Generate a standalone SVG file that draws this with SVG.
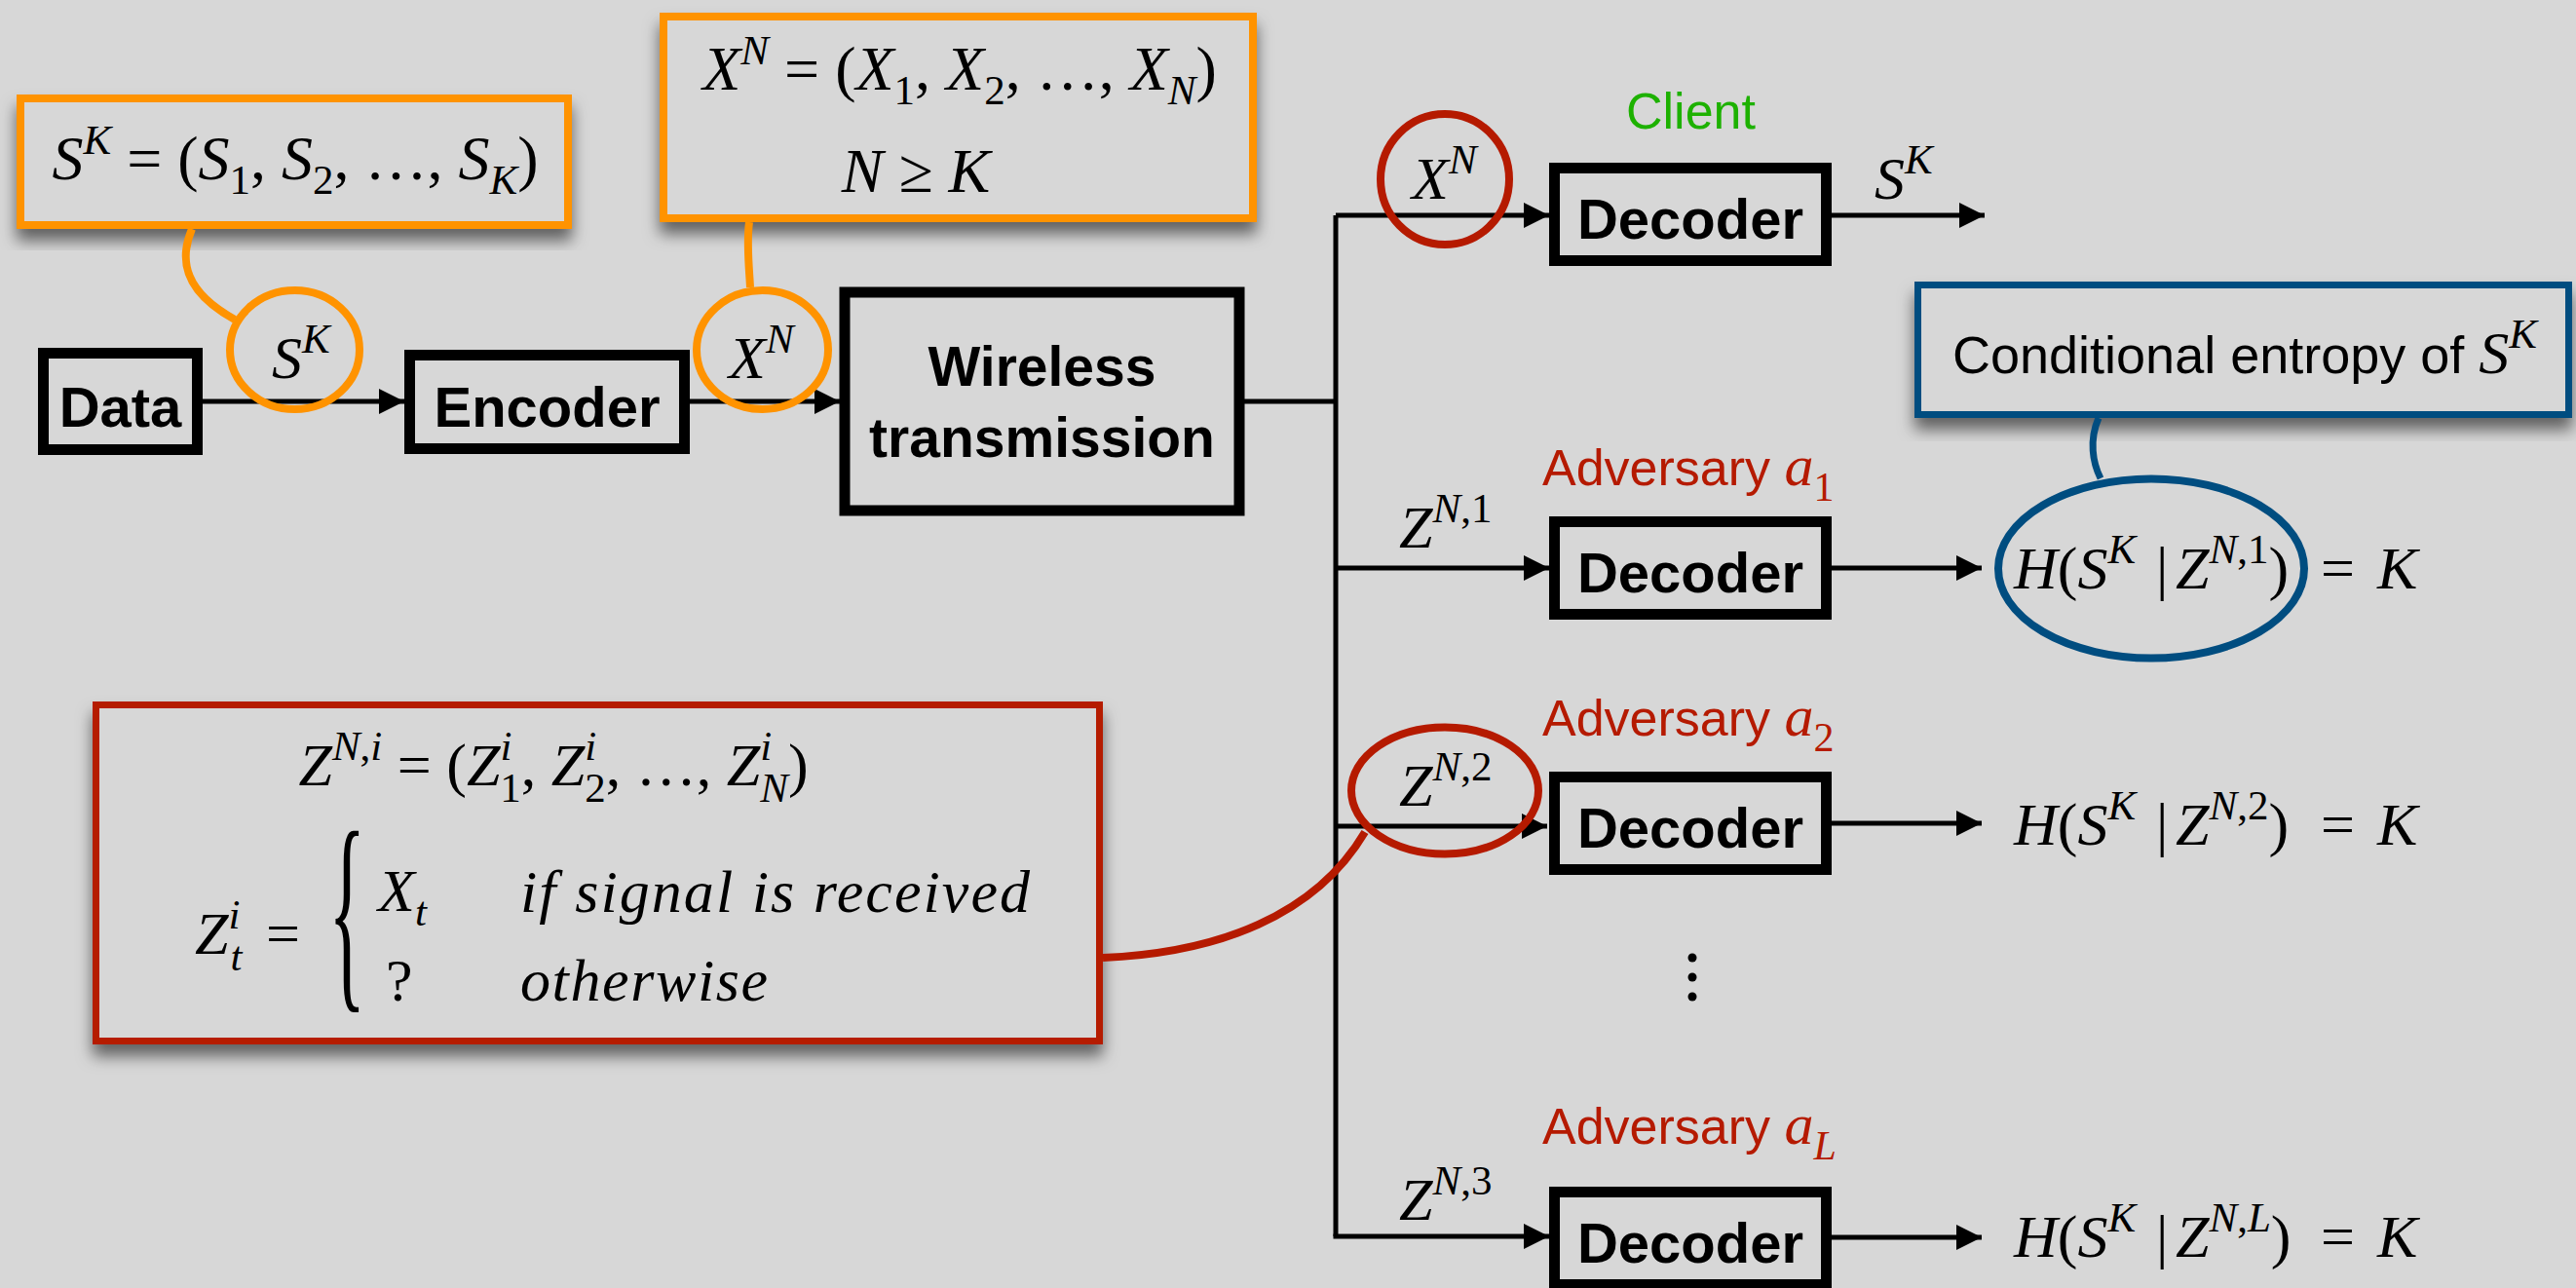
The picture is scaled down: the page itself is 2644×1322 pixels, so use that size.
<svg xmlns="http://www.w3.org/2000/svg" width="2644" height="1322" viewBox="0 0 2644 1322">
  <defs>
    <style>
      .m { font-family: "Liberation Serif", "Times New Roman", serif; font-size: 62px; }
      .i { font-style: italic; }
      .s { font-size: 43px; }
      .c { text-anchor: middle; }
      .lab { font-family: "Liberation Sans", Arial, sans-serif; }
      .bold { font-family: "Liberation Sans", Arial, sans-serif; font-weight: bold; font-size: 58px; text-anchor: middle; }
      .box { fill: none; stroke: #000; stroke-width: 11; }
      .wire { fill: none; stroke: #000; stroke-width: 5; }
      .arrow { fill: none; stroke: #000; stroke-width: 5; marker-end: url(#head); }
      .callout { fill: #d7d7d7; filter: url(#shadow); }
      .orange { stroke: #ff9300; }
      .red { stroke: #b51a00; }
      .blue { stroke: #004d80; }
      .ring { fill: none; stroke-width: 8; }
    </style>
    <marker id="head" markerUnits="userSpaceOnUse" markerWidth="28" markerHeight="26" refX="26" refY="13" orient="auto">
      <path d="M0,0 L26,13 L0,26 z" fill="#000"/>
    </marker>
    <filter id="shadow" x="-5%" y="-10%" width="110%" height="130%">
      <feDropShadow dx="0" dy="12" stdDeviation="8" flood-color="#000" flood-opacity="0.55"/>
    </filter>
  </defs>

  <rect width="2644" height="1322" fill="#d7d7d7"/>

  <!-- callout boxes -->
  <g id="callout-sk">
    <rect class="callout orange" x="21" y="101" width="562" height="130" stroke-width="8"/>
    <text class="m c" x="303" y="184" style="font-size:64px"><tspan class="i">S</tspan><tspan class="i s" dy="-26">K</tspan><tspan dy="26"> = (</tspan><tspan class="i">S</tspan><tspan class="s" dy="15">1</tspan><tspan dy="-15">, </tspan><tspan class="i">S</tspan><tspan class="s" dy="15">2</tspan><tspan dy="-15">, …, </tspan><tspan class="i">S</tspan><tspan class="i s" dy="15">K</tspan><tspan dy="-15">)</tspan></text>
  </g>

  <g id="callout-xn">
    <rect class="callout orange" x="681" y="17" width="605" height="207" stroke-width="8"/>
    <text class="m c" x="985" y="92" style="font-size:64px"><tspan class="i">X</tspan><tspan class="i s" dy="-26">N</tspan><tspan dy="26"> = (</tspan><tspan class="i">X</tspan><tspan class="s" dy="15">1</tspan><tspan dy="-15">, </tspan><tspan class="i">X</tspan><tspan class="s" dy="15">2</tspan><tspan dy="-15">, …, </tspan><tspan class="i">X</tspan><tspan class="i s" dy="15">N</tspan><tspan dy="-15">)</tspan></text>
    <text class="m c" x="940" y="197" style="font-size:64px"><tspan class="i">N</tspan> ≥ <tspan class="i">K</tspan></text>
  </g>

  <g id="callout-entropy">
    <rect class="callout blue" x="1968.5" y="292.5" width="668" height="133" stroke-width="7"/>
    <text class="lab" x="2004" y="383" font-size="54">Conditional entropy of <tspan class="m i">S</tspan><tspan class="m i s" dy="-26">K</tspan></text>
  </g>

  <g id="callout-zn">
    <rect class="callout red" x="98.5" y="723.5" width="1030" height="345" stroke-width="7"/>
    <text class="m c" x="568" y="806"><tspan class="i">Z</tspan><tspan class="s" dy="-26"><tspan class="i">N</tspan>,<tspan class="i">i</tspan></tspan><tspan dy="26"> = (</tspan><tspan class="i">Z</tspan><tspan class="i s" dy="-26">i</tspan><tspan class="s" dx="-12" dy="43">1</tspan><tspan dy="-17">, </tspan><tspan class="i">Z</tspan><tspan class="i s" dy="-26">i</tspan><tspan class="s" dx="-12" dy="43">2</tspan><tspan dy="-17">, …, </tspan><tspan class="i">Z</tspan><tspan class="i s" dy="-26">i</tspan><tspan class="i s" dx="-12" dy="43">N</tspan><tspan dy="-17">)</tspan></text>
    <text class="m" x="200" y="979"><tspan class="i">Z</tspan><tspan class="i s" dy="-26">i</tspan><tspan class="i s" dx="-10" dy="43">t</tspan><tspan x="273" dy="-17">=</tspan></text>
    <text class="m" x="281" y="296.7" style="font-size:66px" transform="scale(1.2,3.4)">{</text>
    <text class="m" x="388" y="935"><tspan class="i">X</tspan><tspan class="i s" dy="15">t</tspan></text>
    <text class="m" x="396" y="1027">?</text>
    <text class="m i" x="534" y="936" textLength="523" lengthAdjust="spacing">if signal is received</text>
    <text class="m i" x="534" y="1027" textLength="254" lengthAdjust="spacing">otherwise</text>
  </g>

  <!-- connectors -->
  <g id="connectors">
    <line class="arrow" x1="208" y1="412" x2="415" y2="412"/>
    <line class="arrow" x1="708" y1="412" x2="862" y2="412"/>
    <polyline class="wire" points="1277,412 1371,412"/>
    <polyline class="wire" points="1371,1269 1371,221"/>
    <line class="arrow" x1="1371" y1="221" x2="1590" y2="221"/>
    <line class="arrow" x1="1371" y1="583" x2="1590" y2="583"/>
    <line class="arrow" x1="1371" y1="848" x2="1588" y2="848"/>
    <polyline class="arrow" points="1368.5,1269 1590,1269"/>
    <line class="arrow" x1="1880" y1="221" x2="2037" y2="221"/>
    <line class="arrow" x1="1880" y1="583" x2="2034" y2="583"/>
    <line class="arrow" x1="1880" y1="845" x2="2034" y2="845"/>
    <line class="arrow" x1="1880" y1="1270" x2="2034" y2="1270"/>
    <!-- callout leaders -->
    <path class="ring orange" d="M197,235 C183,268 190,300 241,328"/>
    <path class="ring orange" d="M769,228 C766,250 769,275 770,295"/>
    <path class="blue" fill="none" stroke-width="7" d="M2154,429 C2144,452 2148,475 2156,491"/>
    <path class="ring red" d="M1132,983 C1250,978 1350,940 1401,854"/>
  </g>

  <!-- blocks -->
  <g id="data">
    <rect class="box" x="44.5" y="362.5" width="158" height="99"/>
    <text class="bold" x="123.5" y="438">Data</text>
  </g>
  <g id="encoder">
    <rect class="box" x="420.5" y="364.5" width="282" height="96"/>
    <text class="bold" x="561.5" y="438">Encoder</text>
  </g>
  <g id="wireless">
    <rect class="box" x="867" y="300" width="405" height="224" stroke-width="10"/>
    <text class="bold" x="1069.5" y="396" style="font-size:57px">Wireless</text>
    <text class="bold" x="1069.5" y="469" style="font-size:57px">transmission</text>
  </g>

  <g id="decoder-client">
    <rect class="box" x="1595.5" y="172.5" width="279" height="95"/>
    <text class="bold" x="1735" y="245">Decoder</text>
    <text class="lab" x="1669" y="132" font-size="52" fill="#1db100">Client</text>
  </g>
  <g id="decoder-a1">
    <rect class="box" x="1595.5" y="535.5" width="279" height="95"/>
    <text class="bold" x="1735" y="608">Decoder</text>
    <text class="lab" x="1583" y="498" font-size="52" fill="#b51a00">Adversary <tspan class="m i" style="font-size:60px">a</tspan><tspan class="m" style="font-size:42px" dy="16">1</tspan></text>
  </g>
  <g id="decoder-a2">
    <rect class="box" x="1595.5" y="797.5" width="279" height="95"/>
    <text class="bold" x="1735" y="870">Decoder</text>
    <text class="lab" x="1583" y="755" font-size="52" fill="#b51a00">Adversary <tspan class="m i" style="font-size:60px">a</tspan><tspan class="m" style="font-size:42px" dy="16">2</tspan></text>
  </g>
  <g id="ellipsis">
    <circle cx="1737" cy="983" r="4.5"/>
    <circle cx="1737" cy="1003" r="4.5"/>
    <circle cx="1737" cy="1023" r="4.5"/>
  </g>
  <g id="decoder-aL">
    <rect class="box" x="1595.5" y="1223.5" width="279" height="95"/>
    <text class="bold" x="1735" y="1296">Decoder</text>
    <text class="lab" x="1583" y="1174" font-size="52" fill="#b51a00">Adversary <tspan class="m i" style="font-size:60px">a</tspan><tspan class="m i" style="font-size:42px" dy="16">L</tspan></text>
  </g>

  <!-- signal labels -->
  <g id="signal-labels">
    <text class="m" x="279" y="388"><tspan class="i">S</tspan><tspan class="i s" dy="-26">K</tspan></text>
    <text class="m" x="748" y="388"><tspan class="i">X</tspan><tspan class="i s" dy="-26">N</tspan></text>
    <text class="m" x="1449" y="204"><tspan class="i">X</tspan><tspan class="i s" dy="-26">N</tspan></text>
    <text class="m" x="1924" y="204"><tspan class="i">S</tspan><tspan class="i s" dy="-26">K</tspan></text>
    <text class="m" x="1436" y="562"><tspan class="i">Z</tspan><tspan class="s" dy="-26"><tspan class="i">N</tspan>,1</tspan></text>
    <text class="m" x="1436" y="827"><tspan class="i">Z</tspan><tspan class="s" dy="-26"><tspan class="i">N</tspan>,2</tspan></text>
    <text class="m" x="1436" y="1252"><tspan class="i">Z</tspan><tspan class="s" dy="-26"><tspan class="i">N</tspan>,3</tspan></text>
  </g>

  <!-- entropy results -->
  <g id="entropy-1">
    <text class="m" y="604"><tspan class="i" x="2067">H</tspan>(<tspan class="i">S</tspan><tspan class="i s" dy="-26">K</tspan><tspan x="2213" dy="26">|</tspan><tspan class="i" x="2233">Z</tspan><tspan class="s" dy="-26"><tspan class="i">N</tspan>,1</tspan><tspan dy="26">)</tspan><tspan x="2382">=</tspan><tspan class="i" x="2440">K</tspan></text>
  </g>
  <g id="entropy-2">
    <text class="m" y="867"><tspan class="i" x="2067">H</tspan>(<tspan class="i">S</tspan><tspan class="i s" dy="-26">K</tspan><tspan x="2213" dy="26">|</tspan><tspan class="i" x="2233">Z</tspan><tspan class="s" dy="-26"><tspan class="i">N</tspan>,2</tspan><tspan dy="26">)</tspan><tspan x="2382">=</tspan><tspan class="i" x="2440">K</tspan></text>
  </g>
  <g id="entropy-L">
    <text class="m" y="1290"><tspan class="i" x="2067">H</tspan>(<tspan class="i">S</tspan><tspan class="i s" dy="-26">K</tspan><tspan x="2213" dy="26">|</tspan><tspan class="i" x="2233">Z</tspan><tspan class="s" dy="-26"><tspan class="i">N</tspan>,<tspan class="i">L</tspan></tspan><tspan dy="26">)</tspan><tspan x="2382">=</tspan><tspan class="i" x="2440">K</tspan></text>
  </g>

  <!-- highlight rings -->
  <g id="rings">
    <ellipse class="ring orange" cx="302.5" cy="359" rx="66.5" ry="61"/>
    <ellipse class="ring orange" cx="782.5" cy="359" rx="67.5" ry="61"/>
    <ellipse class="ring red" cx="1483" cy="184" rx="66" ry="67"/>
    <ellipse class="ring red" cx="1483" cy="811.5" rx="96" ry="65"/>
    <ellipse class="ring blue" cx="2208" cy="583.5" rx="157" ry="92" stroke-width="7"/>
  </g>
</svg>
